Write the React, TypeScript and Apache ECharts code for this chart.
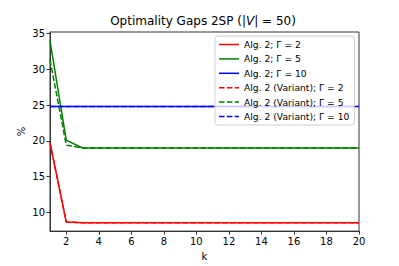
import React, { useEffect, useRef } from "react";
import * as echarts from "echarts";

const ks = [1, 2, 3, 4, 5, 6, 7, 8, 9, 10, 11, 12, 13, 14, 15, 16, 17, 18, 19, 20];
const alg2G2 = [19.75, 8.65, 8.57, 8.56, 8.56, 8.56, 8.56, 8.56, 8.56, 8.56, 8.56, 8.56, 8.56, 8.56, 8.56, 8.56, 8.56, 8.56, 8.56, 8.56];
const alg2G5 = [34.0, 20.1, 19.0, 19.0, 19.0, 19.0, 19.0, 19.0, 19.0, 19.0, 19.0, 19.0, 19.0, 19.0, 19.0, 19.0, 19.0, 19.0, 19.0, 19.0];
const alg2G10 = [24.8, 24.8, 24.8, 24.8, 24.8, 24.8, 24.8, 24.8, 24.8, 24.8, 24.8, 24.8, 24.8, 24.8, 24.8, 24.8, 24.8, 24.8, 24.8, 24.8];
const varG2 = [19.75, 8.65, 8.57, 8.56, 8.56, 8.56, 8.56, 8.56, 8.56, 8.56, 8.56, 8.56, 8.56, 8.56, 8.56, 8.56, 8.56, 8.56, 8.56, 8.56];
const varG5 = [31.3, 19.4, 19.0, 19.0, 19.0, 19.0, 19.0, 19.0, 19.0, 19.0, 19.0, 19.0, 19.0, 19.0, 19.0, 19.0, 19.0, 19.0, 19.0, 19.0];
const varG10 = [24.8, 24.8, 24.8, 24.8, 24.8, 24.8, 24.8, 24.8, 24.8, 24.8, 24.8, 24.8, 24.8, 24.8, 24.8, 24.8, 24.8, 24.8, 24.8, 24.8];
const xTicks = [2, 4, 6, 8, 10, 12, 14, 16, 18, 20];
const yTicks = [10, 15, 20, 25, 30, 35];
const seriesNames = [
  "Alg. 2; Γ = 2",
  "Alg. 2; Γ = 5",
  "Alg. 2; Γ = 10",
  "Alg. 2 (Variant); Γ = 2",
  "Alg. 2 (Variant); Γ = 5",
  "Alg. 2 (Variant); Γ = 10",
];

const FONT = "DejaVu Sans";
const SOLID_ICON = "path://M0,0h20v1.5h-20z";
const DASH_ICON = "path://M0,0h5.5v1.5h-5.5z M7.9,0h5.5v1.5h-5.5z M15.8,0h4.2v1.5h-4.2z";

export default function App() {
  const ref = useRef<HTMLDivElement>(null);
  useEffect(() => {
    if (!ref.current) return;
    const chart = echarts.init(ref.current, null, { renderer: "svg" });
    const mk = (name: string, vals: number[], color: string, dashed: boolean) => ({
      name,
      type: "line",
      data: ks.map((k, i) => [k, vals[i]]),
      symbol: "none",
      showSymbol: false,
      lineStyle: { color, width: 1.5, type: dashed ? [5.5, 2.4] : "solid" },
      itemStyle: { color },
    });
    chart.setOption({
      animation: false,
      backgroundColor: "#fff",
      textStyle: { fontFamily: FONT },
      grid: { left: 50, right: 40, top: 32, bottom: 34, show: true, borderColor: "#333", borderWidth: 1, backgroundColor: "transparent" },
      graphic: [
        {
          type: "text",
          x: 203,
          y: 21,
          style: {
            text: "{n|Optimality Gaps 2SP (|}{i|V}{n|| = 50)}",
            align: "center",
            verticalAlign: "middle",
            rich: {
              n: { fontFamily: FONT, fontSize: 12, fill: "#000" },
              i: { fontFamily: FONT, fontSize: 12, fontStyle: "italic", fill: "#000" },
            },
          },
        },
      ],
      xAxis: {
        type: "value",
        min: 1,
        max: 20,
        name: "k",
        nameLocation: "middle",
        nameGap: 19,
        nameTextStyle: { fontFamily: FONT, fontSize: 10, color: "#000" },
        splitLine: { show: false },
        axisLine: { show: true, lineStyle: { color: "#333", width: 1 } },
        axisTick: { show: true, inside: false, length: 3.5, lineStyle: { color: "#333" }, customValues: xTicks },
        axisLabel: { fontFamily: FONT, fontSize: 10, color: "#000", margin: 5, customValues: xTicks },
      },
      yAxis: {
        type: "value",
        min: 7.39,
        max: 35.2,
        name: "%",
        nameLocation: "middle",
        nameGap: 24,
        nameMoveOverlap: false,
        nameRotate: 90,
        nameTextStyle: { fontFamily: FONT, fontSize: 10, color: "#000" },
        splitLine: { show: false },
        axisLine: { show: true, lineStyle: { color: "#333", width: 1 } },
        axisTick: { show: true, inside: false, length: 3.5, lineStyle: { color: "#333" }, customValues: yTicks },
        axisLabel: { fontFamily: FONT, fontSize: 10, color: "#000", margin: 5, customValues: yTicks },
      },
      legend: {
        orient: "vertical",
        left: 215,
        top: 36,
        padding: [4, 5, 4, 4],
        itemWidth: 20,
        itemHeight: 10,
        itemGap: 5.4,
        backgroundColor: "rgba(255,255,255,0.8)",
        borderColor: "#ccc",
        borderWidth: 1,
        borderRadius: 3,
        textStyle: { fontFamily: FONT, fontSize: 9.2, color: "#000" },
        data: seriesNames.map((name, i) => ({ name, icon: i < 3 ? SOLID_ICON : DASH_ICON })),
      },
      series: [
        mk(seriesNames[0], alg2G2, "#ff0000", false),
        mk(seriesNames[1], alg2G5, "#008000", false),
        mk(seriesNames[2], alg2G10, "#0000ff", false),
        mk(seriesNames[3], varG2, "#ff0000", true),
        mk(seriesNames[4], varG5, "#008000", true),
        mk(seriesNames[5], varG10, "#0000ff", true),
      ],
    });
    return () => chart.dispose();
  }, []);
  return <div ref={ref} style={{ width: 399, height: 266, position: "absolute", left: 0, top: 0 }} />;
}
